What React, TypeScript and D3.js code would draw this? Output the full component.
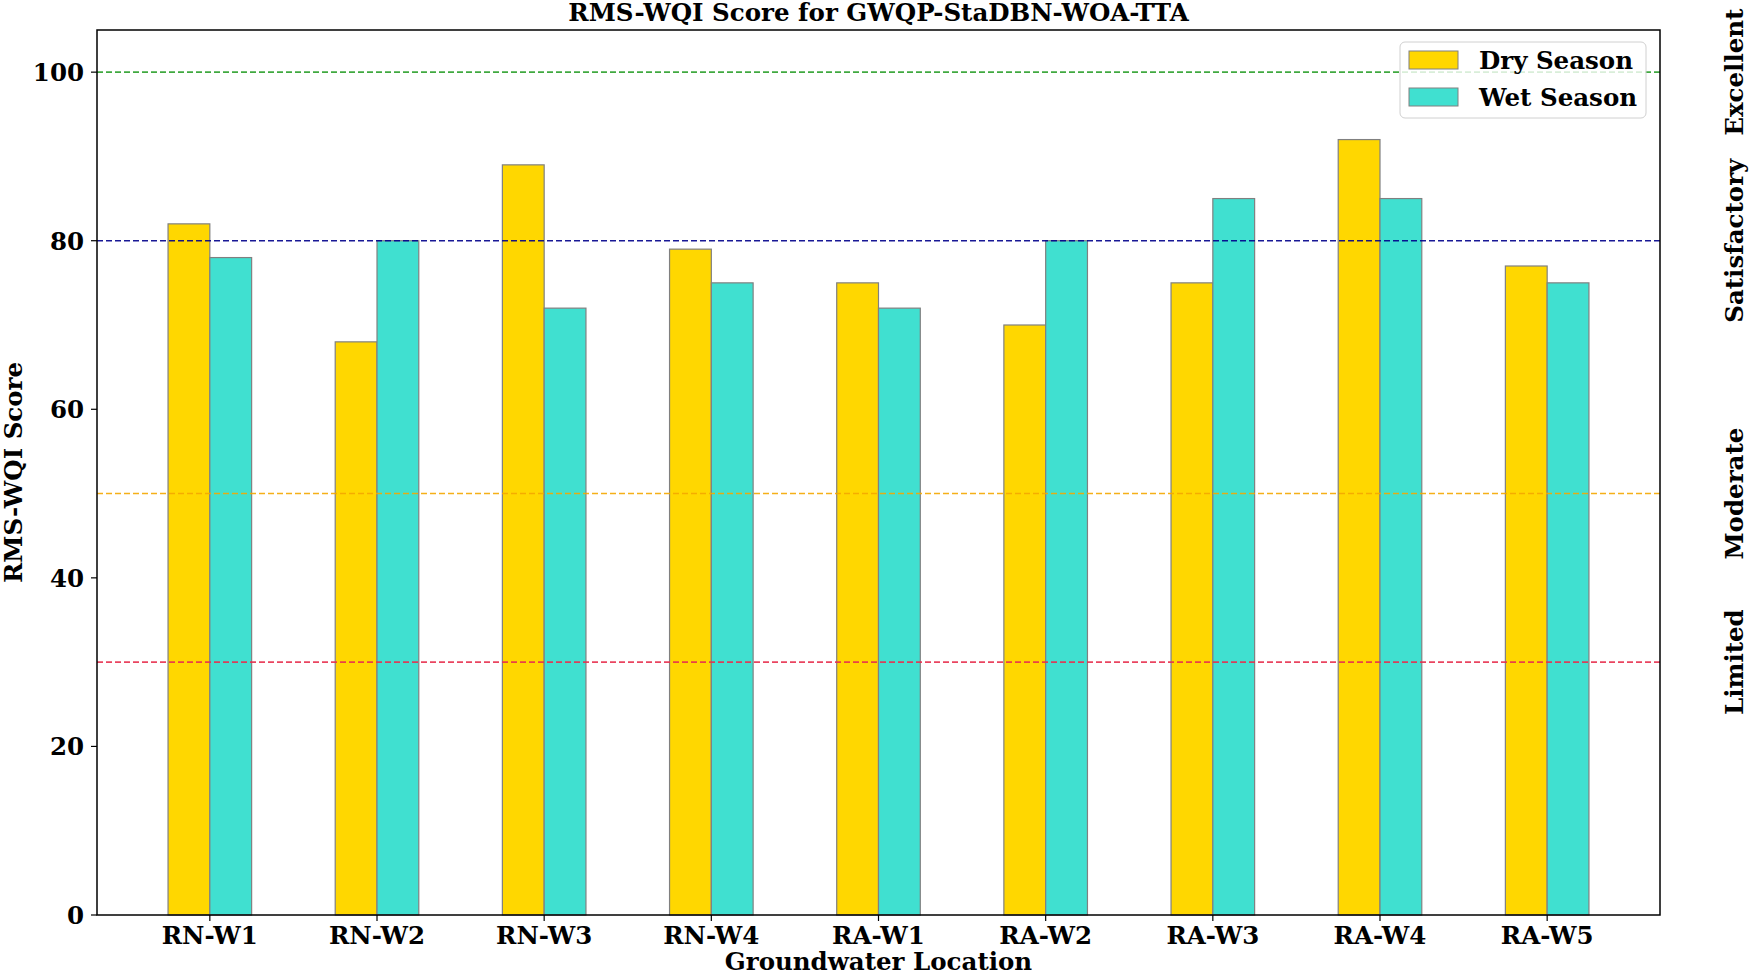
import * as React from 'react';
import * as d3 from 'd3';

const locations = ['RN-W1', 'RN-W2', 'RN-W3', 'RN-W4', 'RA-W1', 'RA-W2', 'RA-W3', 'RA-W4', 'RA-W5'];
const drySeason = [82, 68, 89, 79, 75, 70, 75, 92, 77];
const wetSeason = [78, 80, 72, 75, 72, 80, 85, 85, 75];
const yTicks = [0, 20, 40, 60, 80, 100];

const thresholds = [
  {value: 100, label: 'Excellent', color: '#2ca02c'},
  {value: 80, label: 'Satisfactory', color: '#00008b'},
  {value: 50, label: 'Moderate', color: '#f5a800'},
  {value: 30, label: 'Limited', color: '#e8304f'},
];

const series = [
  {name: 'Dry Season', values: drySeason, color: '#ffd700', offset: -0.125},
  {name: 'Wet Season', values: wetSeason, color: '#40e0d0', offset: 0.125},
];

const W = 1750;
const H = 974;
const m = {left: 97, right: 1660, top: 30, bottom: 915};
const font = '"DejaVu Serif", serif';
const fs = 24.5;

const App = () => {
  const barW = 0.25;
  const x = d3.scaleLinear().domain([-0.675, locations.length - 1 + 0.675]).range([m.left, m.right]);
  const y = d3.scaleLinear().domain([0, 105]).range([m.bottom, m.top]);
  const bw = x(barW) - x(0);

  return (
    <svg width={W} height={H} style={{position: 'absolute', left: 0, top: 0, background: '#fff'}}
         fontFamily={font} fontWeight="bold">
      {series.map(s => (
        <g key={s.name}>
          {s.values.map((v, i) => (
            <rect key={i} x={x(i + s.offset) - bw / 2} y={y(v)} width={bw} height={y(0) - y(v)}
                  fill={s.color} stroke="#808080" strokeWidth={1.2}/>
          ))}
        </g>
      ))}
      {thresholds.map(t => (
        <g key={t.label}>
          <line x1={m.left} x2={m.right} y1={y(t.value)} y2={y(t.value)} stroke={t.color}
                strokeWidth={1.6} strokeDasharray="6,3" opacity={0.9}/>
          <text transform={`translate(1743,${y(t.value)}) rotate(-90)`} textAnchor="middle"
                fontSize={fs}>{t.label}</text>
        </g>
      ))}
      <rect x={m.left} y={m.top} width={m.right - m.left} height={m.bottom - m.top}
            fill="none" stroke="#000" strokeWidth={1.5}/>
      {yTicks.map(t => (
        <g key={t}>
          <line x1={m.left - 6} x2={m.left} y1={y(t)} y2={y(t)} stroke="#000" strokeWidth={1.2}/>
          <text x={m.left - 13} y={y(t)} dy="0.36em" textAnchor="end" fontSize={fs}>{t}</text>
        </g>
      ))}
      {locations.map((l, i) => (
        <g key={l}>
          <line x1={x(i)} x2={x(i)} y1={m.bottom} y2={m.bottom + 6} stroke="#000" strokeWidth={1.2}/>
          <text x={x(i)} y={m.bottom + 29} textAnchor="middle" fontSize={fs}>{l}</text>
        </g>
      ))}
      <text x={(m.left + m.right) / 2} y={H - 4} textAnchor="middle" fontSize={fs}>Groundwater Location</text>
      <text transform={`translate(22,${(m.top + m.bottom) / 2}) rotate(-90)`} textAnchor="middle"
            fontSize={fs}>RMS-WQI Score</text>
      <text x={(m.left + m.right) / 2} y={21} textAnchor="middle" fontSize={fs}>RMS-WQI Score for GWQP-StaDBN-WOA-TTA</text>
      <g transform="translate(1400,42)">
        <rect width={246} height={76} rx={5} fill="#fff" fillOpacity={0.8} stroke="#d0d0d0"/>
        {series.map((s, i) => (
          <g key={s.name} transform={`translate(9,${18 + i * 37})`}>
            <rect x={0} y={-9} width={49} height={18} fill={s.color} stroke="#808080"/>
            <text x={70} y={0} dy="0.36em" fontSize={fs}>{s.name}</text>
          </g>
        ))}
      </g>
    </svg>
  );
};

export default App;
